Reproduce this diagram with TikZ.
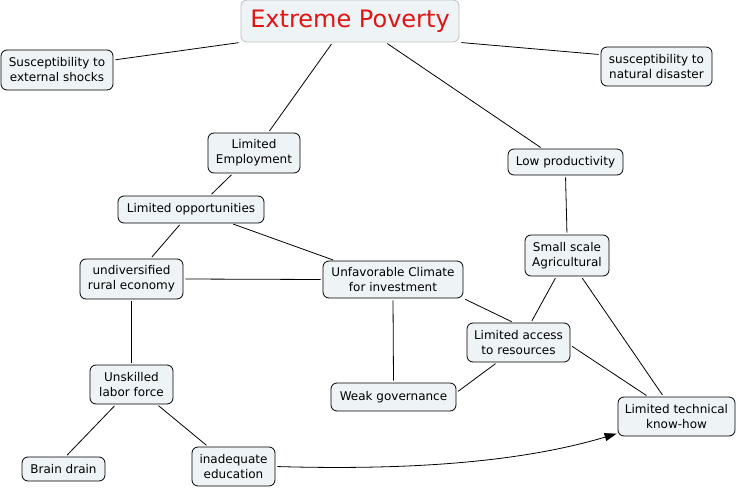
\documentclass[tikz,border=0pt]{standalone}
\usepackage{fontspec}
\setmainfont{DejaVu Sans}
\usetikzlibrary{arrows.meta}
\definecolor{boxfill}{RGB}{238,243,245}
\definecolor{titlered}{RGB}{225,20,20}
\definecolor{titleborder}{RGB}{190,190,190}
\tikzset{
  box/.style={draw=black, fill=boxfill, rounded corners=6pt, line width=0.8pt,
    inner sep=0pt, align=center, font=\fontsize{12}{15}\selectfont},
  titlebox/.style={box, draw=titleborder, font=\fontsize{24}{28}\selectfont, text=titlered},
  link/.style={line width=0.8pt, shorten <=2pt, shorten >=2pt},
  arrowlink/.style={link, -{Triangle[length=12pt,width=8pt]}, shorten >=1pt}
}
\begin{document}
\begin{tikzpicture}[x=1pt,y=-1pt]
\useasboundingbox (0,0) rectangle (738,489);
\node[titlebox, minimum width=218pt, minimum height=42pt] (ep) at (350,21) {Extreme Poverty};
\node[box, minimum width=112pt, minimum height=40pt] (se) at (57,70) {Susceptibility to\\external shocks};
\node[box, minimum width=111pt, minimum height=39pt] (sn) at (656.5,66.5) {susceptibility to\\natural disaster};
\node[box, minimum width=92pt, minimum height=40pt] (le) at (254,153) {Limited\\Employment};
\node[box, minimum width=115pt, minimum height=26pt] (lp) at (565.5,162) {Low productivity};
\node[box, minimum width=146pt, minimum height=27pt] (lo) at (191,209.5) {Limited opportunities};
\node[box, minimum width=103pt, minimum height=40pt] (ud) at (131.5,279) {undiversified\\rural economy};
\node[box, minimum width=140pt, minimum height=37pt] (uc) at (393,279.5) {Unfavorable Climate\\for investment};
\node[box, minimum width=84pt, minimum height=41pt] (ss) at (567,255.5) {Small scale\\Agricultural};
\node[box, minimum width=103pt, minimum height=39pt] (la) at (518.5,342.5) {Limited access\\to resources};
\node[box, minimum width=83pt, minimum height=39pt] (ul) at (131.5,384.5) {Unskilled\\labor force};
\node[box, minimum width=125pt, minimum height=28pt] (wg) at (393.5,397) {Weak governance};
\node[box, minimum width=117pt, minimum height=39pt] (lt) at (676.5,416.5) {Limited technical\\know-how};
\node[box, minimum width=83pt, minimum height=24pt] (bd) at (63.5,469) {Brain drain};
\node[box, minimum width=83pt, minimum height=39pt] (ie) at (233.5,466.5) {inadequate\\education};

\draw[link] (ep.south west) -- (se.10);
\draw[link] (ep.south east) -- (sn.168);
\draw[link] (ep.231) -- (le.55);
\draw[link] (ep.329) -- (lp.150);
\draw[link] (le.224) -- (lo.36);
\draw[link] (lp.south) -- (ss.north);
\draw[link] (lo.234) -- (ud.47);
\draw[link] (lo.341) -- (uc.162);
\draw[link] (ud.east) -- (uc.west);
\draw[link] (ud.south) -- (ul.north);
\draw[link] (uc.south east) -- (la.104);
\draw[link] (ss.243) -- (la.58);
\draw[link] (ss.304) -- (lt.123);
\draw[link] (la.357) -- (lt.145);
\draw[link] (uc.south) -- (wg.north);
\draw[link] (la.223) -- (wg.4);
\draw[link] (ul.232) -- (bd.80);
\draw[link] (ul.322) -- (ie.142);
\draw[arrowlink] (ie.east) .. controls +(140,4) and +(-94,28) .. (lt.196);
\end{tikzpicture}
\end{document}
